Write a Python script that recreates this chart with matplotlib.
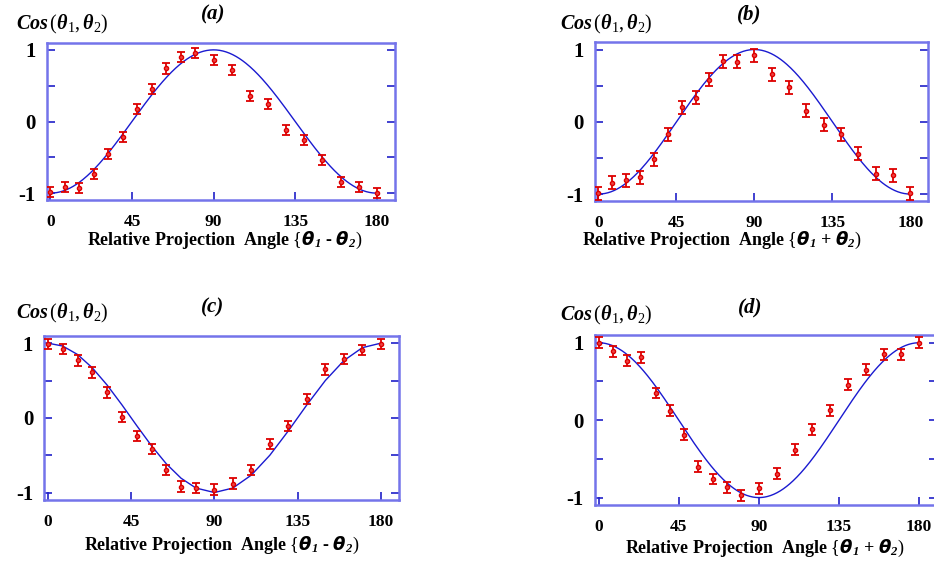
import matplotlib.pyplot as plt
import numpy as np

W, H = 934, 563

# angles (degrees) at which the measurements were taken
angles = [0, 8, 16, 24, 32, 40, 48, 56, 64, 72, 80,
          90, 100, 110, 120, 130, 140, 150, 160, 170, 180]

# measured correlation values per panel
vals_a = [-0.98, -0.91, -0.93, -0.73, -0.46, -0.21, 0.18, 0.45, 0.74, 0.90, 0.95,
          0.86, 0.72, 0.35, 0.25, -0.12, -0.26, -0.54, -0.84, -0.91, -1.00]
vals_b = [-0.99, -0.84, -0.81, -0.77, -0.52, -0.17, 0.20, 0.33, 0.58, 0.84, 0.83,
          0.92, 0.66, 0.48, 0.15, -0.04, -0.17, -0.44, -0.72, -0.74, -0.99]
vals_c = [0.99, 0.92, 0.77, 0.61, 0.34, 0.01, -0.24, -0.42, -0.70, -0.92, -0.94,
          -0.96, -0.88, -0.70, -0.35, -0.11, 0.25, 0.65, 0.79, 0.91, 0.99]
vals_d = [1.00, 0.89, 0.77, 0.81, 0.35, 0.12, -0.19, -0.60, -0.76, -0.87, -0.97,
          -0.88, -0.69, -0.38, -0.12, 0.13, 0.46, 0.65, 0.85, 0.85, 1.00]

# error bar half widths
err_a = [0.07] * 21
err_b = [0.09] * 21
err_c = [0.07] * 21
err_d = [0.07] * 21

xticks = [0, 45, 90, 135, 180]
yticks = [-1, 0, 1]

SERIF = "Liberation Serif"
SPINE = "#7474ea"
TICKC = "#2020c8"
LINEC = "#1a1ad0"
RED = "#dd0000"

plt.rcParams["mathtext.fontset"] = "custom"
plt.rcParams["mathtext.rm"] = "Liberation Serif"
plt.rcParams["mathtext.it"] = "Liberation Serif:italic:bold"
plt.rcParams["mathtext.bf"] = "Liberation Serif:italic:bold"

fig = plt.figure(figsize=(W / 100, H / 100), dpi=100)


def box(l, t, r, b):
    return [l / W, 1 - b / H, (r - l) / W, (b - t) / H]


def ftext(x, y, s, **kw):
    fig.text(x / W, 1 - y / H, s, ha="center", va="center", **kw)


panels = [
    # rect, values, errors, sign, smooth, tag, operator, label positions
    (box(46.7, 42.7, 395, 200.3), vals_a, err_a, -1, True, "(a)", "-", (62, 24), (213, 14), (225, 240)),
    (box(595, 42.3, 927.7, 201.3), vals_b, err_b, -1, True, "(b)", "+", (606, 24), (749, 14), (722, 240)),
    (box(44.3, 335.7, 399.3, 500), vals_c, err_c, 1, False, "(c)", "-", (62, 313), (213, 307), (222, 545)),
    (box(595, 335, 937, 505.3), vals_d, err_d, 1, True, "(d)", "+", (606, 315), (750, 307), (765, 548)),
]

for rect, vals, err, sign, smooth, tag, op, ylab_pos, tag_pos, xlab_pos in panels:
    ax = fig.add_axes(rect)
    if smooth:
        xs = np.linspace(0, 180, 400)
    else:
        xs = np.array(angles, dtype=float)
    ax.plot(xs, sign * np.cos(np.radians(2 * xs)), color=LINEC, lw=1.0, zorder=2)
    ax.errorbar(angles, vals, yerr=err, fmt="o", ms=3, color=RED, mfc="#ee4444",
                mec=RED, ecolor=RED, elinewidth=1.3, capsize=3.2, capthick=1.3, zorder=3)
    ax.set_xlim(-2, 190)
    ax.set_ylim(-1.1, 1.1)
    ax.set_xticks(xticks)
    ax.set_yticks(yticks)
    ax.set_yticks([-0.5, 0.5], minor=True)
    ax.set_yticklabels(["-1", "0", "1"], fontfamily=SERIF, fontweight="bold", fontsize=15)
    ax.set_xticklabels([str(t) for t in xticks], fontfamily=SERIF, fontweight="bold", fontsize=12.5)
    ax.tick_params(axis="y", which="both", direction="in", left=True, right=True,
                   length=6, width=1.2, color=TICKC, pad=8)
    ax.tick_params(axis="x", direction="in", bottom=True, top=False,
                   length=6, width=1.2, color=TICKC, pad=10)
    for sp in ax.spines.values():
        sp.set_color(SPINE)
        sp.set_linewidth(1.8)

    ftext(*ylab_pos, r"$Cos\,(\theta_1,\theta_2)$", fontsize=14.5)
    ftext(*tag_pos, tag, fontsize=15, fontfamily=SERIF, fontweight="bold", fontstyle="italic")
    ftext(*xlab_pos, "Relative Projection  Angle "
          + r"$\{\boldsymbol{\theta}_\mathbf{1}$ " + op + r" $\boldsymbol{\theta}_\mathbf{2})$",
          fontsize=13, fontfamily=SERIF, fontweight="bold")

fig.savefig("out.png", dpi=100)
